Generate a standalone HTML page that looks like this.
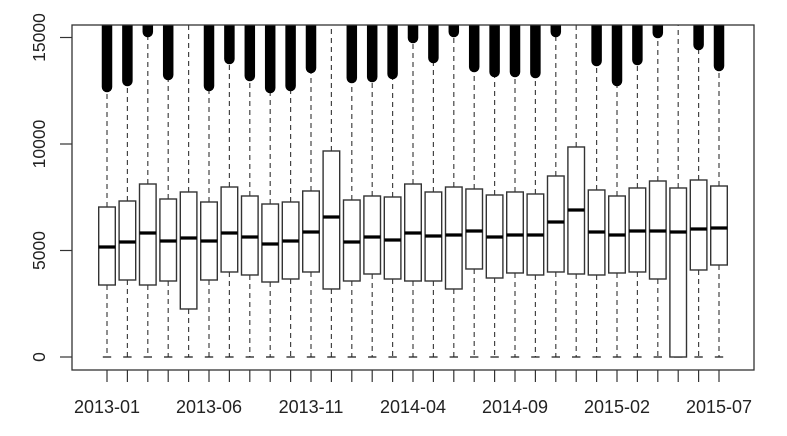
<!DOCTYPE html>
<html><head><meta charset="utf-8"><style>
html,body{margin:0;padding:0;background:#fff;}
svg{display:block;font-family:"Liberation Sans",Arial,sans-serif;}
</style></head><body>
<svg id="chart" width="787" height="436" viewBox="0 0 787 436" xmlns="http://www.w3.org/2000/svg">
<defs><clipPath id="plotclip"><rect x="72" y="25" width="682" height="345"/></clipPath></defs>
<g id="marks" clip-path="url(#plotclip)"></g>
<g id="axes"></g>
</svg>
<script>
const categories = ["2013-01","2013-02","2013-03","2013-04","2013-05","2013-06","2013-07","2013-08","2013-09","2013-10","2013-11","2013-12","2014-01","2014-02","2014-03","2014-04","2014-05","2014-06","2014-07","2014-08","2014-09","2014-10","2014-11","2014-12","2015-01","2015-02","2015-03","2015-04","2015-05","2015-06","2015-07"];
const q1 = [3380,3615,3380,3568,2254,3615,3991,3850,3521,3662,3991,3193,3568,3897,3662,3568,3568,3193,4132,3709,3944,3850,3991,3897,3850,3944,3991,3662,0,4085,4319];
const medians = [5164,5399,5822,5446,5587,5446,5822,5634,5305,5446,5869,6573,5399,5634,5493,5822,5681,5728,5916,5634,5728,5728,6338,6902,5869,5728,5916,5916,5869,6010,6057];
const q3 = [7042,7324,8122,7418,7747,7277,7981,7559,7183,7277,7794,9672,7371,7559,7512,8122,7747,7981,7888,7606,7747,7653,8498,9860,7841,7559,7935,8263,7935,8310,8028];
const whiskerLow = [0,0,0,0,0,0,0,0,0,0,0,0,0,0,0,0,0,0,0,0,0,0,0,0,0,0,0,0,0,0,0];
// lowest outlier value (null = no outliers, whisker reaches beyond top)
const outlierMin = [12442,12723,15024,13005,null,12489,13756,12958,12395,12489,13334,null,12864,12911,13052,14742,13803,15024,13381,13146,13146,13099,15024,null,13662,12723,13709,14977,null,14414,13428];
const outlierMax = 17000;
const yTicks = [0,5000,10000,15000];
const xLabelIdx = [0,5,10,15,20,25,30];

const NS="http://www.w3.org/2000/svg";
const marks=document.getElementById('marks'), axes=document.getElementById('axes');
function y(v){return 357 - v*319.5/15000;}
function x(i){return 107 + i*(719-107)/30;}
function el(tag,attrs,parent){const e=document.createElementNS(NS,tag);for(const k in attrs)e.setAttribute(k,attrs[k]);parent.appendChild(e);return e;}
const hw=8.3;
categories.forEach((c,i)=>{
  const cx=x(i);
  const g=el('g',{},marks);
  
  
  const top = outlierMin[i]===null ? outlierMax : outlierMin[i];
  el('line',{x1:cx,x2:cx,y1:y(q3[i]),y2:y(top),stroke:'#444','stroke-width':1.2,'stroke-dasharray':'5 4'},g);
  el('line',{x1:cx,x2:cx,y1:y(q1[i]),y2:y(whiskerLow[i]),stroke:'#444','stroke-width':1.2,'stroke-dasharray':'5 4'},g);
  el('line',{x1:cx-4.2,x2:cx+4.2,y1:y(whiskerLow[i]),y2:y(whiskerLow[i]),stroke:'#222','stroke-width':1.3},g);
  if(outlierMin[i]!==null){
    const ob=el('line',{x1:cx,x2:cx,y1:y(outlierMin[i])-5,y2:y(outlierMax),stroke:'#000','stroke-width':10.5,'stroke-linecap':'round'},g);
    
    
  }
  el('rect',{x:cx-hw,y:y(q3[i]),width:2*hw,height:y(q1[i])-y(q3[i]),fill:'#fff',stroke:'#333','stroke-width':1.4},g);
  el('line',{x1:cx-hw,x2:cx+hw,y1:y(medians[i]),y2:y(medians[i]),stroke:'#000','stroke-width':3.2},g);
});
const fr=el('rect',{x:72,y:25,width:682,height:345,fill:'none',stroke:'#333','stroke-width':1.3},axes);


const ya=el('g',{},axes);


yTicks.forEach(t=>{
  el('line',{x1:60,x2:72,y1:y(t),y2:y(t),stroke:'#333','stroke-width':1.2},ya);
  const tx=el('text',{x:0,y:0,transform:'translate(45,'+y(t)+') rotate(-90)','text-anchor':'middle','font-size':17.5,fill:'#222'},ya);
  tx.textContent=t;
  
  
});
const xa=el('g',{},axes);


categories.forEach((c,i)=>{ el('line',{x1:x(i),x2:x(i),y1:370,y2:382,stroke:'#333','stroke-width':1.2},xa); });
xLabelIdx.forEach(i=>{
  const tx=el('text',{x:x(i),y:413,'text-anchor':'middle','font-size':18,fill:'#222'},xa);
  tx.textContent=categories[i];
  
  
});
</script>
</body></html>
